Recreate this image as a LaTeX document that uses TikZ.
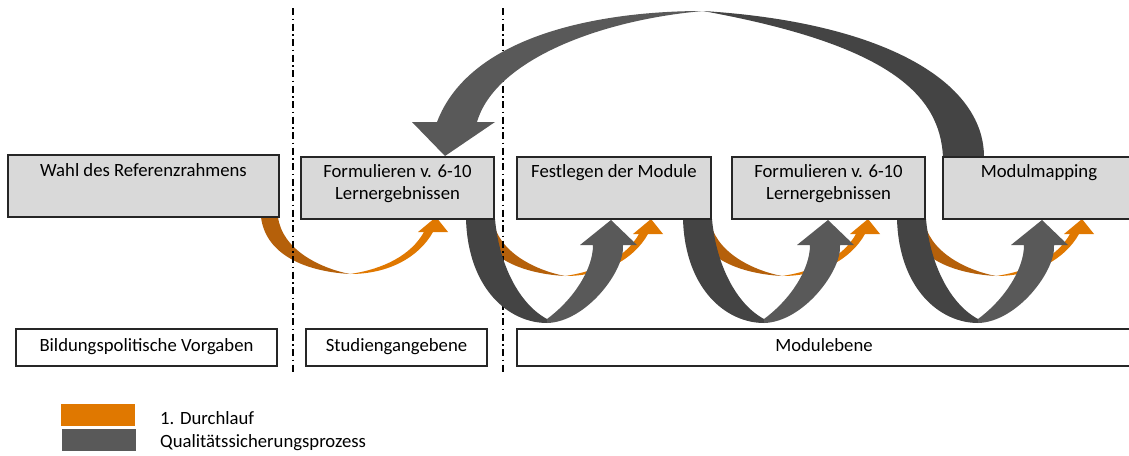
\documentclass[tikz,border=0pt]{standalone}
\usepackage{fontspec}
\setmainfont{Carlito}
\definecolor{boxfill}{HTML}{D9D9D9}
\definecolor{boxline}{HTML}{262626}
\definecolor{gdark}{HTML}{444444}
\definecolor{glight}{HTML}{595959}
\definecolor{odark}{HTML}{B5600A}
\definecolor{olight}{HTML}{E07800}
\newcommand\mainsize{\fontsize{18.7}{21.5}\selectfont}
\tikzset{
  topbox/.style={draw=boxline, line width=1.2pt, fill=boxfill, inner sep=0pt, outer sep=0pt, minimum height=62pt},
  botbox/.style={draw=boxline, line width=1.2pt, fill=white, inner sep=0pt, outer sep=0pt,
                 minimum height=37pt, text height=12pt, text depth=4pt, font=\mainsize},
  boxtext/.style={anchor=north, inner sep=0pt, align=center, font=\mainsize},
  sepline/.style={line width=1.3pt, dash pattern=on 7pt off 3.5pt on 1.5pt off 3.5pt},
  legendbox/.style={inner sep=0pt, outer sep=0pt, minimum width=74pt, minimum height=22pt},
  legendtext/.style={anchor=base west, inner sep=0pt, font=\mainsize},
}
\begin{document}
\begin{tikzpicture}[x=1pt,y=-1pt]
\useasboundingbox (0,0) rectangle (1129,455);
\fill[white] (0,0) rectangle (1129,455);
\clip (0,0) rectangle (1129,455);

% boxes (positions)
\path
  (143.5,186) node[topbox, minimum width=271pt, draw=none, fill=none] (b1) {}
  (397.5,188) node[topbox, minimum width=193pt, draw=none, fill=none] (b2) {}
  (614,188)   node[topbox, minimum width=194pt, draw=none, fill=none] (b3) {}
  (828.5,188) node[topbox, minimum width=193pt, draw=none, fill=none] (b4) {}
  (1039,188)  node[topbox, minimum width=192pt, draw=none, fill=none] (b5) {};

% orange arrows (1. Durchlauf)
\foreach \b in {b1,b2,b3,b4}{
  \begin{scope}[shift={(\b.south east)}]
    \fill[odark] (-18,0) .. controls (-14,34) and (20,54) .. (71,57)
       .. controls (40,51) and (3,32) .. (-1,0) -- cycle;
    \fill[olight] (71,57) .. controls (110,57) and (140,40) .. (154,15)
       -- (169,15) -- (157,0) -- (139,15) -- (145,15)
       .. controls (132,38) and (105,52) .. (71,57) -- cycle;
  \end{scope}
}

% separator lines
\draw[sepline] (293,8) coordinate (s1a) -- (293,373) coordinate (s1b);
\draw[sepline] (503,8) coordinate (s2a) -- (503,373) coordinate (s2b);

% grey U arrows
\foreach \b in {b2,b3,b4}{
  \begin{scope}[shift={(\b.south east)}]
    \fill[gdark] (-28,0) .. controls (-26,70) and (15,104) .. (53,104)
       -- (53,100) .. controls (25,85) and (5,45) .. (1,0) -- cycle;
    \fill[glight] (53,104) .. controls (92,103) and (131,52) .. (129,26)
       -- (143,26) -- (117,1) -- (86,26) -- (99,26)
       .. controls (99,50) and (80,80) .. (53,100) -- cycle;
  \end{scope}
}

% big arrow from Modulmapping back to Formulieren
\fill[gdark] (943,157) .. controls (940,95) and (890,45) .. (703,11)
   .. controls (880,22) and (984,80) .. (984,157) -- cycle;
\fill[glight] (703,11) .. controls (600,11) and (470,35) .. (437,122)
   -- (412,122) -- (445,156) -- (495,122) -- (477,122)
   .. controls (495,60) and (600,20) .. (703,11) -- cycle;

% draw boxes
\foreach \b in {b1,b2,b3,b4,b5}{
  \draw[draw=boxline, line width=1.2pt, fill=boxfill] (\b.north west) rectangle (\b.south east);
}

% texts of top boxes
\node[boxtext] (t1) at ([yshift=-6pt]b1.north) {\strut Wahl des Referenzrahmens};
\node[boxtext] (t2) at ([yshift=-5.5pt]b2.north) {\strut Formulieren v. 6-10\\Lernergebnissen};
\node[boxtext] (t3) at ([yshift=-5.5pt]b3.north) {\strut Festlegen der Module};
\node[boxtext] (t4) at ([yshift=-5.5pt]b4.north) {\strut Formulieren v. 6-10\\Lernergebnissen};
\node[boxtext] (t5) at ([yshift=-5.5pt]b5.north) {\strut Modulmapping};

% bottom level boxes
\node[botbox, minimum width=261pt] (l1) at (146.5,347.5) {Bildungspolitische Vorgaben};
\node[botbox, minimum width=181pt] (l2) at (396.5,347.5) {Studiengangebene};
\node[botbox, minimum width=614pt] (l3) at (824,347.5) {Modulebene};

% legend
\node[legendbox, fill=olight] (k1) at (98,415) {};
\node[legendbox, fill=glight] (k2) at (99,440) {};
\node[legendtext] (k1t) at (160,424) {1. Durchlauf};
\node[legendtext] (k2t) at (160,447) {Qualitätssicherungsprozess};
\end{tikzpicture}
\end{document}
